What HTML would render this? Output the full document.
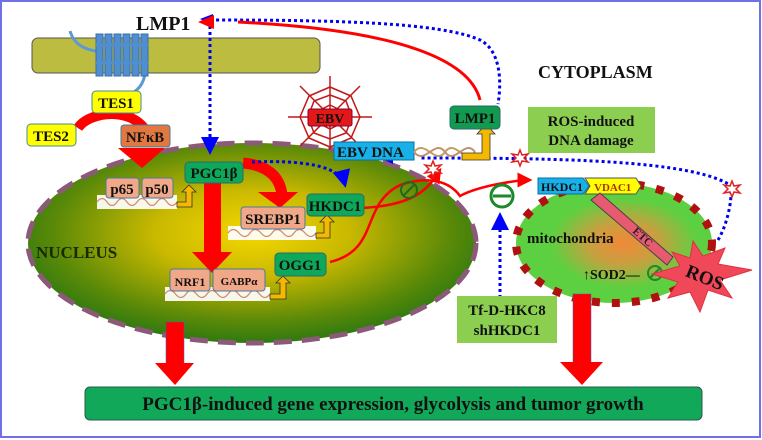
<!DOCTYPE html>
<html><head><meta charset="utf-8"><style>
html,body{margin:0;padding:0;background:#fff;}
svg{display:block;font-family:"Liberation Serif",serif;font-weight:bold;}
</style></head><body>
<svg width="762" height="440" viewBox="0 0 762 440" xmlns="http://www.w3.org/2000/svg">
<defs>
<radialGradient id="nuc" cx="0.5" cy="0.45" r="0.55">
<stop offset="0" stop-color="#f6d800"/><stop offset="0.4" stop-color="#c8b800"/><stop offset="0.8" stop-color="#5c8a08"/><stop offset="1" stop-color="#2e7a10"/>
</radialGradient>
<radialGradient id="mit" cx="0.55" cy="0.5" r="0.5">
<stop offset="0" stop-color="#f08838"/><stop offset="0.35" stop-color="#c8a040"/><stop offset="0.75" stop-color="#5cd040"/><stop offset="1" stop-color="#5cd040"/>
</radialGradient>
<marker id="ra" markerWidth="6" markerHeight="6" refX="5" refY="3" orient="auto"><path d="M0,0 L6,3 L0,6 z" fill="#f00"/></marker>
<marker id="ba" markerWidth="6" markerHeight="6" refX="5" refY="3" orient="auto"><path d="M0,0 L6,3 L0,6 z" fill="#00f"/></marker>
</defs>
<rect x="1" y="1" width="759" height="436" fill="#fff" stroke="#7070e8" stroke-width="2"/>
<rect x="32" y="38" width="288" height="35" rx="6" fill="#bcbc40" stroke="#555" stroke-width="1"/>
<path d="M70,31 C75,48 90,50 100,52" fill="none" stroke="#5b9bd5" stroke-width="3"/>
<path d="M145,62 C147,80 140,88 134,92" fill="none" stroke="#5b9bd5" stroke-width="3"/>
<path d="M78,128 C88,120 95,110 100,108" fill="none" stroke="#5b9bd5" stroke-width="3"/>
<g fill="#4f8fd0" stroke="#3a6ea8" stroke-width="1">
<rect x="96" y="34" width="7" height="42"/><rect x="105" y="34" width="7" height="42"/><rect x="114" y="34" width="7" height="42"/><rect x="123" y="34" width="7" height="42"/><rect x="132" y="34" width="7" height="42"/><rect x="141" y="34" width="7" height="42"/>
</g>
<line x1="96" y1="45" x2="148" y2="45" stroke="#4f8fd0" stroke-width="3"/>
<line x1="96" y1="63" x2="148" y2="63" stroke="#4f8fd0" stroke-width="3"/>
<text x="136" y="30" font-size="20" fill="#111">LMP1</text>
<text x="538" y="78" font-size="18" fill="#111">CYTOPLASM</text>
<ellipse cx="252" cy="243" rx="224" ry="100" fill="url(#nuc)" stroke="#8a5a78" stroke-width="5" stroke-dasharray="18,10"/>
<ellipse cx="614" cy="243" rx="98" ry="60" fill="url(#mit)" stroke="#b01010" stroke-width="8" stroke-dasharray="8,12"/>
<text x="36" y="258" font-size="17" fill="#1a2a00">NUCLEUS</text>
<text x="527" y="243" font-size="15" fill="#111">mitochondria</text>
<path d="M78,128 C90,110 140,105 150,140" fill="none" stroke="#f00" stroke-width="10"/>
<polygon points="118,148 165,148 142,168" fill="#f00"/>
<rect x="204" y="180" width="17" height="75" fill="#f00"/>
<polygon points="192,252 232,252 212,273" fill="#f00"/>
<path d="M243,163 C265,165 280,175 282,195" fill="none" stroke="#f00" stroke-width="11"/>
<polygon points="258,192 298,192 280,208" fill="#f00"/>
<rect x="166" y="322" width="18" height="42" fill="#f00" stroke="#4060c0" stroke-width="0.5"/>
<polygon points="155,363 194,363 175,385" fill="#f00"/>
<rect x="573" y="294" width="18" height="70" fill="#f00" stroke="#4060c0" stroke-width="0.5"/>
<polygon points="560,362 603,362 582,385" fill="#f00"/>
<g fill="none" stroke="#0000ee" stroke-width="3" stroke-dasharray="3,3">
<path d="M210,20 L210,152" marker-end="url(#ba)"/>
<path d="M210,20 C330,20 440,22 480,40 C500,50 502,80 498,104"/>
<path d="M252,162 C300,160 340,165 345,185" marker-end="url(#ba)"/>
<path d="M718,240 C730,220 733,190 730,185 C690,160 560,158 420,158" />
<path d="M500,298 L500,215" marker-end="url(#ba)"/>
</g>
<polygon points="213,14 200,19 213,25" fill="#00f"/>
<polygon points="380,158 393,152 393,164" fill="#00f"/>
<path d="M480,100 C470,60 400,30 238,22" fill="none" stroke="#f00" stroke-width="3"/>
<polygon points="198,22 214,15 214,29" fill="#f00"/>
<path d="M362,208 C420,205 430,185 440,170" fill="none" stroke="#f00" stroke-width="2.5" marker-end="url(#ra)"/>
<path d="M330,262 C380,250 360,205 400,185 C430,175 450,182 460,196 C480,185 520,180 530,180" fill="none" stroke="#f00" stroke-width="2.5" marker-end="url(#ra)"/>
<g stroke="#c01818" stroke-width="1.5" fill="none">
<line x1="330" y1="76" x2="330" y2="150"/><line x1="288" y1="117" x2="372" y2="117"/>
<line x1="300" y1="86" x2="360" y2="146"/><line x1="360" y1="86" x2="300" y2="146"/>
<polygon points="330,105 338,109 342,117 338,125 330,129 322,125 318,117 322,109"/>
<polygon points="330,95 346,101 352,117 346,133 330,139 314,133 308,117 314,101"/>
<polygon points="330,87 351,96 360,117 351,138 330,147 309,138 300,117 309,96"/>
</g>
<rect x="308" y="109" width="44" height="17" rx="2" fill="#e51818" stroke="#803"/>
<text x="330" y="123" font-size="14" text-anchor="middle" fill="#111">EBV</text>
<rect x="334" y="142" width="80" height="18" fill="#18b0e8" stroke="#0a70a0"/>
<text x="337" y="157" font-size="15" fill="#111">EBV DNA</text>
<path d="M414,152 C425,138 435,166 445,152 C455,138 465,166 475,152" fill="none" stroke="#c0a060" stroke-width="2"/>
<path d="M414,152 C425,166 435,138 445,152 C455,166 465,138 475,152" fill="none" stroke="#c09070" stroke-width="2"/>
<path d="M462,153 L482,153 L482,134 L477,134 L486,124 L495,134 L490,134 L490,160 L462,160 z" fill="#f5b800" stroke="#333" stroke-width="0.8"/>
<rect x="450" y="106" width="50" height="23" rx="4" fill="#119a50" stroke="#2a6a6a"/>
<text x="475" y="123" font-size="15" text-anchor="middle" fill="#111">LMP1</text>
<rect x="528" y="107" width="127" height="46" fill="#8ccf50"/>
<text x="591" y="126" font-size="15" text-anchor="middle" fill="#111">ROS-induced</text>
<text x="591" y="145" font-size="15" text-anchor="middle" fill="#111">DNA damage</text>
<g fill="#fff" stroke="#e02020" stroke-width="1.5">
<polygon points="433,161 435,166 441,165 437,169 441,173 435,172 433,177 431,172 425,173 429,169 425,165 431,166"/>
<polygon points="520,150 522,155 528,154 524,158 528,162 522,161 520,166 518,161 512,162 516,158 512,154 518,155"/>
<polygon points="732,181 734,186 740,185 736,189 740,193 734,192 732,197 730,192 724,193 728,189 724,185 730,186"/>
</g>
<rect x="92" y="91" width="49" height="22" rx="4" fill="#ffff00" stroke="#4a8a9a"/>
<text x="116" y="108" font-size="15" text-anchor="middle" fill="#111">TES1</text>
<rect x="27" y="124" width="49" height="22" rx="4" fill="#ffff00" stroke="#4a8a9a"/>
<text x="51" y="141" font-size="15" text-anchor="middle" fill="#111">TES2</text>
<rect x="121" y="125" width="49" height="22" rx="3" fill="#e07840" stroke="#4a7aa0"/>
<text x="145" y="142" font-size="15" text-anchor="middle" fill="#111">NFκB</text>
<g fill="#fff" opacity="0.92">
<rect x="97" y="195" width="80" height="14"/><rect x="228" y="226" width="88" height="14"/><rect x="165" y="287" width="105" height="14"/>
</g>
<g fill="none" stroke="#d08870" stroke-width="1.2">
<path d="M97,202 q5,-7 10,0 t10,0 t10,0 t10,0 t10,0 t10,0 t10,0 t10,0"/>
<path d="M228,233 q5,-7 11,0 t11,0 t11,0 t11,0 t11,0 t11,0 t11,0 t11,0"/>
<path d="M165,294 q5,-7 10.5,0 t10.5,0 t10.5,0 t10.5,0 t10.5,0 t10.5,0 t10.5,0 t10.5,0 t10.5,0 t10.5,0"/>
</g>
<g fill="#f0a888" stroke="#4a7aa0">
<rect x="106" y="178" width="33" height="20" rx="3"/><rect x="142" y="178" width="31" height="20" rx="3"/>
<rect x="241" y="207" width="64" height="22" rx="3"/>
<rect x="170" y="269" width="40" height="22" rx="3"/><rect x="213" y="269" width="52" height="22" rx="3"/>
</g>
<text x="122" y="194" font-size="15" text-anchor="middle" fill="#111">p65</text>
<text x="157" y="194" font-size="15" text-anchor="middle" fill="#111">p50</text>
<text x="273" y="224" font-size="15" text-anchor="middle" fill="#111">SREBP1</text>
<text x="190" y="286" font-size="12" text-anchor="middle" fill="#111">NRF1</text>
<text x="239" y="285" font-size="11" text-anchor="middle" fill="#111">GABPα</text>
<g fill="#f5b800" stroke="#333" stroke-width="0.8">
<path d="M177,202 L186,202 L186,192 L182,192 L189,185 L196,192 L192,192 L192,207 L177,207 z"/>
<path d="M316,233 L324,233 L324,222 L320,222 L327,215 L334,222 L330,222 L330,238 L316,238 z"/>
<path d="M270,294 L280,294 L280,283 L276,283 L283,276 L290,283 L286,283 L286,299 L270,299 z"/>
</g>
<rect x="185" y="162" width="58" height="21" rx="4" fill="#0ea85a" stroke="#2a6a6a"/>
<text x="214" y="178" font-size="15" text-anchor="middle" fill="#111">PGC1β</text>
<rect x="307" y="194" width="57" height="22" rx="4" fill="#0ea85a" stroke="#2a6a6a"/>
<text x="335" y="211" font-size="15" text-anchor="middle" fill="#111">HKDC1</text>
<rect x="275" y="253" width="51" height="23" rx="4" fill="#0ea85a" stroke="#2a6a6a"/>
<text x="300" y="270" font-size="15" text-anchor="middle" fill="#111">OGG1</text>
<g fill="none" stroke="#1a8a2a" stroke-width="3">
<circle cx="409" cy="190" r="8" stroke-width="2" stroke="#206a20"/><line x1="403" y1="196" x2="415" y2="184" stroke-width="2" stroke="#206a20"/>
<circle cx="502" cy="196" r="11"/><line x1="493" y1="196" x2="511" y2="196"/>
<circle cx="655" cy="273" r="7" stroke-width="2"/><line x1="650" y1="278" x2="660" y2="268" stroke-width="2"/>
</g>
<path d="M538,178 L583,178 L589,186 L583,194 L538,194 z" fill="#18b0e8" stroke="#0a70a0"/>
<text x="541" y="191" font-size="12" fill="#111">HKDC1</text>
<path d="M585,178 L636,178 L641,186 L636,194 L585,194 L590,186 z" fill="#ffff00" stroke="#555"/>
<text x="594" y="191" font-size="11" fill="#b03000">VDAC1</text>
<polygon points="591,200 600,193 673,257 667,265" fill="#e85a70" stroke="#444"/>
<text x="632" y="232" font-size="11" fill="#222" transform="rotate(42 632 232)">ETC</text>
<polygon points="693,241 703,256 725,248 718,264 752,270 720,280 732,298 708,290 700,312 690,292 668,298 678,282 652,274 680,266 672,252 690,258" fill="#f04858" stroke="#e03040"/>
<text x="684" y="282" font-size="19" fill="#111" transform="rotate(22 700 280)">ROS</text>
<text x="583" y="279" font-size="14" fill="#111">↑SOD2—</text>
<rect x="457" y="296" width="100" height="47" fill="#8ccf50"/>
<text x="507" y="315" font-size="15" text-anchor="middle" fill="#111">Tf-D-HKC8</text>
<text x="507" y="335" font-size="15" text-anchor="middle" fill="#111">shHKDC1</text>
<rect x="85" y="387" width="617" height="33" rx="5" fill="#12a85a" stroke="#2a5a4a"/>
<text x="393" y="410" font-size="19" text-anchor="middle" fill="#111">PGC1β-induced gene expression, glycolysis and tumor growth</text>
</svg>
</body></html>
